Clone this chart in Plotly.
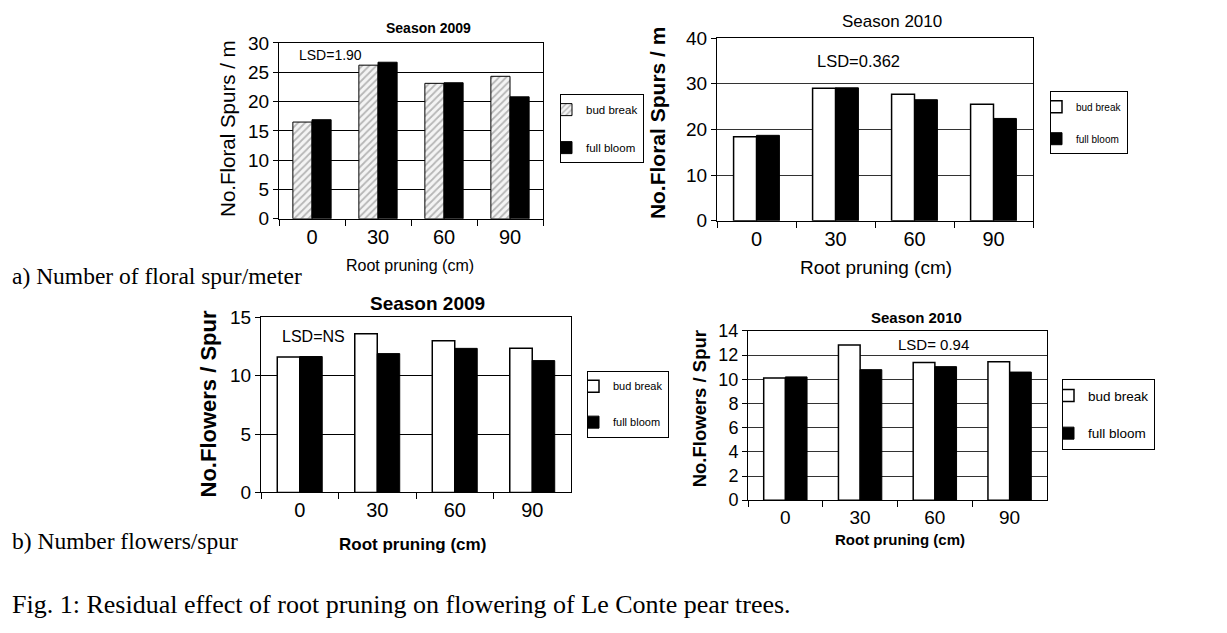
import plotly.graph_objects as go

W, H = 1227, 633

# ---------------- data ----------------
categories = ["0", "30", "60", "90"]

spurs_2009_bud = [16.5, 26.2, 23.1, 24.3]
spurs_2009_full = [16.9, 26.7, 23.2, 20.8]

spurs_2010_bud = [18.4, 29.0, 27.7, 25.5]
spurs_2010_full = [18.7, 29.1, 26.5, 22.4]

flowers_2009_bud = [11.6, 13.6, 13.0, 12.35]
flowers_2009_full = [11.65, 11.9, 12.35, 11.3]

flowers_2010_bud = [10.1, 12.85, 11.4, 11.45]
flowers_2010_full = [10.2, 10.8, 11.05, 10.6]

series_names = ["bud break", "full bloom"]

SANS = "Liberation Sans, Arial, sans-serif"
SERIF = "Liberation Serif, Times New Roman, serif"


def px_x(x):
    return x / W


def px_y(y):
    return 1 - y / H


# panel pixel boxes: (left, right, top, bottom)
panels = [
    (279, 543, 34, 216),
    (717, 1033, 29, 218),
    (261, 571, 318, 499),
    (748, 1047, 332, 507),
]

fig = go.Figure()

datasets = [
    (spurs_2009_bud, spurs_2009_full),
    (spurs_2010_bud, spurs_2010_full),
    (flowers_2009_bud, flowers_2009_full),
    (flowers_2010_bud, flowers_2010_full),
]

for i, (bud, full) in enumerate(datasets):
    n = "" if i == 0 else str(i + 1)
    leg = "legend" + n
    if i == 0:
        bud_marker = dict(color="#f4f4f4", line=dict(color="black", width=1),
                          pattern=dict(shape="/", fgcolor="#777777", bgcolor="#f4f4f4",
                                       size=5, solidity=0.35))
    else:
        bud_marker = dict(color="white", line=dict(color="black", width=1.5))
    fig.add_trace(go.Bar(x=categories, y=bud, name=series_names[0], marker=bud_marker,
                         xaxis="x" + n, yaxis="y" + n, legend=leg,
                         legendgroup="a" + n))
    fig.add_trace(go.Bar(x=categories, y=full, name=series_names[1],
                         marker=dict(color="black", line=dict(color="black", width=1)),
                         xaxis="x" + n, yaxis="y" + n, legend=leg,
                         legendgroup="b" + n))

yranges = [(0, 30, 5), (0, 40, 10), (0, 15, 5), (0, 14, 2)]
tick_sizes = [19, 19, 19, 18]
grid_colors = ["black", "#333333", "black", "#333333"]

layout = dict(
    width=W, height=H,
    margin=dict(l=0, r=0, t=0, b=0),
    paper_bgcolor="white", plot_bgcolor="white",
    bargap=0.42, bargroupgap=0.0, barmode="group",
    font=dict(family=SANS, color="black"),
)

for i, (l, r, t, b) in enumerate(panels):
    n = "" if i == 0 else str(i + 1)
    lo, hi, dt = yranges[i]
    layout["xaxis" + n] = dict(
        domain=[px_x(l), px_x(r)], anchor="y" + n, type="category",
        categoryorder="array", categoryarray=categories,
        tickson="boundaries", ticks="outside", ticklen=6, tickcolor="black",
        showline=True, linecolor="black", linewidth=1, mirror=True,
        showgrid=False, zeroline=False,
        tickfont=dict(family=SANS, size=tick_sizes[i] + 1, color="black"),
    )
    layout["yaxis" + n] = dict(
        domain=[px_y(b), px_y(t)], anchor="x" + n, range=[lo, hi], dtick=dt,
        tick0=0, ticks="outside", ticklen=5, tickcolor="black",
        showline=True, linecolor="black", linewidth=1, mirror=True,
        showgrid=True, gridcolor=grid_colors[i], gridwidth=1, zeroline=False,
        tickfont=dict(family=SANS, size=tick_sizes[i], color="black"),
    )

# legends: (left px, top px, font size, group gap)
legend_specs = [
    (560, 87, 11.5, 19),
    (1050, 84, 10, 13),
    (587, 373, 11, 17),
    (1062, 382, 13.5, 17),
]
for i, (lx, ly, fs, gap) in enumerate(legend_specs):
    n = "" if i == 0 else str(i + 1)
    layout["legend" + n] = dict(
        x=px_x(lx), y=px_y(ly), xanchor="left", yanchor="top",
        xref="paper", yref="paper",
        bgcolor="white", bordercolor="black", borderwidth=1,
        font=dict(family=SANS, size=fs, color="black"), traceorder="grouped",
        tracegroupgap=gap, itemwidth=30, indentation=-15,
    )

fig.update_layout(**layout)

annotations = []


def note(text, x, y, size, family=SANS, bold=False, angle=0, xanchor="center"):
    if bold:
        text = "<b>" + text + "</b>"
    annotations.append(dict(
        text=text, x=px_x(x), y=px_y(y), xref="paper", yref="paper",
        showarrow=False, xanchor=xanchor, yanchor="middle", textangle=angle,
        font=dict(family=family, size=size, color="black"),
    ))


# titles
note("Season 2009", 428, 19, 14, SANS, bold=True)
note("Season 2010", 892, 12, 17, SANS)
note("Season 2009", 427, 304, 19, SANS, bold=True)
note("Season 2010", 917, 318, 15, SANS, bold=True)

# LSD labels
note("LSD=1.90", 330, 47, 14, SANS)
note("LSD=0.362", 858, 53, 16.5, SANS)
note("LSD=NS", 313, 338, 16, SANS)
note("LSD= 0.94", 933, 346, 15, SANS)

# y-axis titles
note("No.Floral Spurs / m", 228, 123, 20.5, SANS, angle=-90)
note("No.Floral Spurs / m", 657, 117, 21, SANS, bold=True, angle=-90)
note("No.Flowers / Spur", 208, 408, 22, SANS, bold=True, angle=-90)
note("No.Flowers / Spur", 699, 413, 18.5, SANS, bold=True, angle=-90)

# x-axis titles
note("Root pruning (cm)", 410, 264, 16, SANS)
note("Root pruning (cm)", 876, 266, 19, SANS)
note("Root pruning (cm)", 412, 553, 17, SANS, bold=True)
note("Root pruning (cm)", 900, 548, 15, SANS, bold=True)

# captions
note("a) Number of floral spur/meter", 10, 275, 23.5, SERIF, xanchor="left")
note("b) Number flowers/spur", 10, 549, 23.5, SERIF, xanchor="left")
note("Fig. 1: Residual effect of root pruning on flowering of Le Conte pear trees.",
     10, 615, 26, SERIF, xanchor="left")

fig.update_layout(annotations=annotations)

fig.write_html("out.html")
